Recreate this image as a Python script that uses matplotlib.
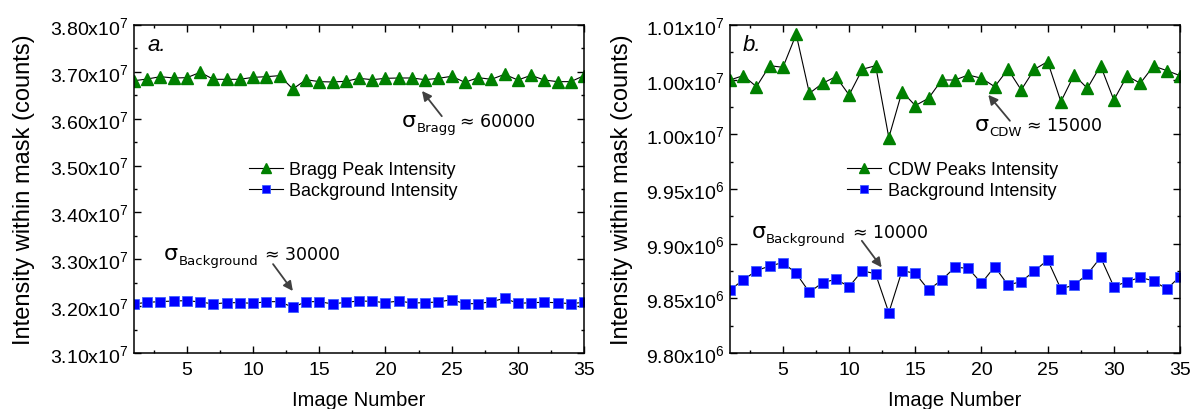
import matplotlib
matplotlib.use("Agg")
import matplotlib.pyplot as plt
from matplotlib.ticker import FixedLocator, MultipleLocator

plt.rcParams["font.family"] = ["Liberation Sans", "DejaVu Sans"]
plt.rcParams["mathtext.default"] = "regular"

# image index along the scan
image_number = list(range(1, 36))

# panel a: Bragg peak and background intensity within the mask
bragg_peak = [3.6810e7, 3.6848e7, 3.6897e7, 3.6869e7, 3.6876e7, 3.6990e7, 3.6841e7,
              3.6841e7, 3.6841e7, 3.6883e7, 3.6897e7, 3.6919e7, 3.6634e7, 3.6833e7,
              3.6791e7, 3.6784e7, 3.6798e7, 3.6862e7, 3.6833e7, 3.6862e7, 3.6869e7,
              3.6869e7, 3.6833e7, 3.6862e7, 3.6905e7, 3.6777e7, 3.6876e7, 3.6841e7,
              3.6947e7, 3.6826e7, 3.6926e7, 3.6826e7, 3.6791e7, 3.6791e7, 3.6919e7]
bragg_background = [3.2046e7, 3.2082e7, 3.2096e7, 3.2110e7, 3.2117e7, 3.2089e7, 3.2046e7,
                    3.2074e7, 3.2074e7, 3.2060e7, 3.2096e7, 3.2096e7, 3.1975e7, 3.2096e7,
                    3.2096e7, 3.2046e7, 3.2082e7, 3.2110e7, 3.2103e7, 3.2074e7, 3.2110e7,
                    3.2067e7, 3.2074e7, 3.2089e7, 3.2138e7, 3.2053e7, 3.2053e7, 3.2096e7,
                    3.2167e7, 3.2060e7, 3.2074e7, 3.2082e7, 3.2074e7, 3.2053e7, 3.2082e7]

# panel b: CDW peaks and background intensity within the mask
cdw_peaks = [10049700, 10053700, 10043600, 10062800, 10061300, 10091500, 10037500,
             10046700, 10052800, 10036000, 10059500, 10062800, 9997000, 10039100,
             10026300, 10033000, 10049700, 10049700, 10054300, 10051300, 10043600,
             10059500, 10040600, 10059500, 10066500, 10029900, 10054300, 10042100,
             10062800, 10031400, 10053400, 10046700, 10062500, 10058300, 10053700]
cdw_background = [9857700, 9866800, 9875300, 9879600, 9882700, 9872900, 9855500,
                  9864400, 9867400, 9860700, 9875300, 9872300, 9836900, 9875300,
                  9872900, 9857700, 9866800, 9878400, 9877500, 9863800, 9879000,
                  9862200, 9865300, 9875000, 9885100, 9858600, 9862200, 9872000,
                  9887500, 9860700, 9865300, 9869200, 9865900, 9858600, 9869900]

# tick values and their labels
left_yticks = [3.10e7, 3.20e7, 3.30e7, 3.40e7, 3.50e7, 3.60e7, 3.70e7, 3.80e7]
left_ylabels = ["3.10x10$^{7}$", "3.20x10$^{7}$", "3.30x10$^{7}$", "3.40x10$^{7}$",
                "3.50x10$^{7}$", "3.60x10$^{7}$", "3.70x10$^{7}$", "3.80x10$^{7}$"]
right_yticks = [9.80e6, 9.85e6, 9.90e6, 9.95e6, 10.00e6, 10.05e6, 10.10e6]
right_ylabels = ["9.80x10$^{6}$", "9.85x10$^{6}$", "9.90x10$^{6}$", "9.95x10$^{6}$",
                 "1.00x10$^{7}$", "1.00x10$^{7}$", "1.01x10$^{7}$"]
xticks = [5, 10, 15, 20, 25, 30, 35]

GREEN = "#008000"
BLUE = "#0000ff"
ARROW = "#404040"
TICK_FS = 14
XLABEL_FS = 14.5
YLABEL_FS = 17

fig = plt.figure(figsize=(11.92, 4.10), dpi=100)
ax_a = fig.add_axes([134 / 1192, 56 / 410, 450 / 1192, 328 / 410])
ax_b = fig.add_axes([730 / 1192, 56 / 410, 450 / 1192, 328 / 410])


def style_axes(ax, yticks, ylabels, ylim, yminor):
    ax.set_xlim(1, 35)
    ax.set_ylim(*ylim)
    ax.xaxis.set_major_locator(FixedLocator(xticks))
    ax.xaxis.set_minor_locator(MultipleLocator(2.5))
    ax.set_yticks(yticks)
    ax.set_yticklabels(ylabels)
    ax.yaxis.set_minor_locator(MultipleLocator(yminor))
    ax.tick_params(which="both", direction="in", top=True, right=True,
                   labelsize=TICK_FS, width=1.0)
    ax.tick_params(which="major", length=5)
    ax.tick_params(which="minor", length=2.5)
    ax.tick_params(axis="x", pad=6)
    ax.tick_params(axis="y", pad=4)
    for sp in ax.spines.values():
        sp.set_linewidth(1.1)
    ax.set_xlabel("Image Number", fontsize=XLABEL_FS)
    ax.set_ylabel("Intensity within mask (counts)", fontsize=YLABEL_FS)


def plot_pair(ax, peak, background, peak_label):
    ax.plot(image_number, peak, color="black", lw=0.8, marker="^", ms=8.5,
            mfc=GREEN, mec=GREEN, label=peak_label)
    ax.plot(image_number, background, color="black", lw=0.8, marker="s", ms=6.5,
            mfc=BLUE, mec="#4060ff", mew=0.6, label="Background Intensity")


def sigma_note(ax, x, y, name, x_val, value):
    # large sigma, small subscript name, then the value
    ax.text(x, y, "σ", transform=ax.transAxes, family="DejaVu Sans",
            fontsize=16, va="baseline", ha="left")
    ax.annotate(name, xy=(x, y), xycoords="axes fraction", xytext=(10.5, -3.5),
                textcoords="offset points", family="DejaVu Sans", fontsize=9.5,
                va="baseline", ha="left")
    ax.text(x_val, y, "≈ %s" % value, transform=ax.transAxes, family="DejaVu Sans",
            fontsize=12.5, va="baseline", ha="left")


def arrow(ax, tail, tip):
    ax.annotate("", xy=tip, xytext=tail, xycoords="axes fraction",
                textcoords="axes fraction",
                arrowprops=dict(arrowstyle="-|>", color=ARROW, lw=1.3,
                                mutation_scale=14, shrinkA=0, shrinkB=0))


# panel a
plot_pair(ax_a, bragg_peak, bragg_background, "Bragg Peak Intensity")
style_axes(ax_a, left_yticks, left_ylabels, (3.10e7, 3.80e7), 0.05e7)
ax_a.text(0.029, 0.942, "a.", transform=ax_a.transAxes, fontsize=16,
          style="italic", va="center", ha="left")
sigma_note(ax_a, 0.596, 0.692, "Bragg", 0.724, "60000")
arrow(ax_a, (0.684, 0.722), (0.640, 0.799))
sigma_note(ax_a, 0.066, 0.287, "Background", 0.291, "30000")
arrow(ax_a, (0.309, 0.271), (0.353, 0.189))
ax_a.legend(loc="center left", bbox_to_anchor=(0.255, 0.527), frameon=False,
            fontsize=13, handlelength=1.9, handletextpad=0.35, labelspacing=0.2,
            borderpad=0, borderaxespad=0, markerscale=0.8)
ax_a.yaxis.set_label_coords(-0.22, 0.5)
ax_a.xaxis.set_label_coords(0.5, -0.112)

# panel b
plot_pair(ax_b, cdw_peaks, cdw_background, "CDW Peaks Intensity")
style_axes(ax_b, right_yticks, right_ylabels, (9.80e6, 10.10e6), 0.025e6)
ax_b.text(0.029, 0.942, "b.", transform=ax_b.transAxes, fontsize=16,
          style="italic", va="center", ha="left")
sigma_note(ax_b, 0.544, 0.680, "CDW", 0.66, "15000")
arrow(ax_b, (0.622, 0.708), (0.574, 0.787))
sigma_note(ax_b, 0.048, 0.353, "Background", 0.273, "10000")
arrow(ax_b, (0.293, 0.342), (0.337, 0.261))
ax_b.legend(loc="center left", bbox_to_anchor=(0.26, 0.527), frameon=False,
            fontsize=13, handlelength=1.9, handletextpad=0.35, labelspacing=0.2,
            borderpad=0, borderaxespad=0, markerscale=0.8)
ax_b.yaxis.set_label_coords(-0.216, 0.5)
ax_b.xaxis.set_label_coords(0.5, -0.112)

fig.savefig("out.png", dpi=100)
